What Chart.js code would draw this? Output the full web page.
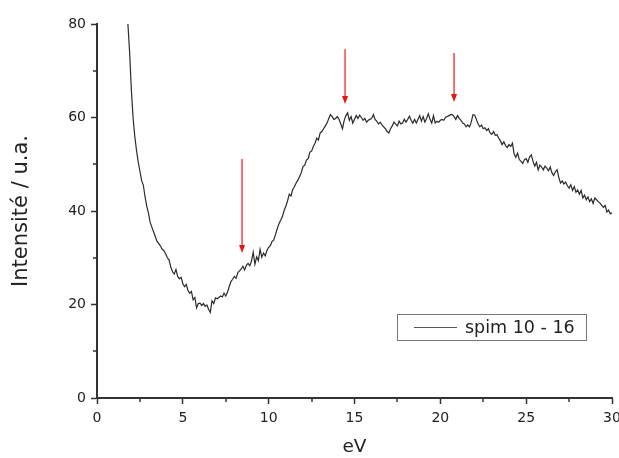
<!DOCTYPE html>
<html>
<head>
<meta charset="utf-8">
<script src="https://cdn.jsdelivr.net/npm/chart.js@4"></script>
<style>
  body { margin: 0; background: #fff; }
</style>
</head>
<body>
<canvas id="spectre" width="619" height="458"></canvas>
<script>
// spectre spim 10 - 16, pas de 0.1 eV a partir de 1.8 eV
var startEV = 1.8;
var stepEV = 0.1;
var intensite = [
  80, 74,
  66, 60, 56, 53, 50.5, 48.5, 46.5, 45.5, 43, 41,
  39.5, 37.5, 36.5, 35.5, 34.5, 33.5, 33, 32.5, 31.8, 31.5,
  30.8, 30, 29.5, 28, 27, 26.5, 27.5, 26, 25.5, 25.8,
  24.5, 23.8, 24.3, 23, 22.4, 22.8, 21, 21.5, 19.3, 20.2,
  20.3, 19.8, 20.2, 19.6, 19.9, 19, 18.3, 20.8, 20.2, 21.4,
  21.2, 21.5, 21.8, 21.6, 22.4, 21.8, 22.6, 23.8, 24.9, 25.4,
  26, 25.6, 26.8, 27.2, 27.6, 28.2, 27.4, 28.4, 28.8, 28.3,
  29.3, 31.2, 28.6, 30.2, 29.4, 31.8, 30.1, 31, 30.4, 31.6,
  32.2, 32.6, 33.5, 33.8, 35, 36.2, 37.3, 38, 38.8, 40.1,
  41, 42.2, 43.6, 43.2, 44.6, 45.2, 46, 46.6, 47.4, 48.2,
  49.5, 49.8, 50.9, 51.2, 52.6, 52.8, 53.8, 54.5, 55.6, 55.2,
  56.7, 57, 57.6, 58.2, 58.8, 59.8, 60.6, 60.2, 59.6, 59.8,
  60.2, 59.6, 58.6, 57.6, 59.4, 60.4, 61, 59.4, 60.2, 58.8,
  59.6, 60.4, 59.8, 60.5, 60, 59.4, 59.8, 59, 59.4, 59.6,
  59.8, 60.6, 59.6, 59.2, 58.6, 59, 58.4, 58, 57.6, 57,
  56.7, 57.6, 58.2, 59, 58.6, 58.2, 59.2, 58.6, 58.8, 59.6,
  59, 59.6, 60.3, 59.4, 58.8, 59.6, 58.8, 59.6, 60.4, 59.2,
  60.2, 59, 59.8, 60.8, 59.6, 58.8, 60.4, 58.8, 59.2, 59,
  59.4, 59.6, 59.4, 60, 60.2, 60.4, 60.6, 60.6, 60.2, 59.6,
  60.4, 59.8, 59.4, 58.8, 58.6, 58, 58.4, 58, 59, 60.6,
  60.5, 59.6, 58.6, 58, 58.4, 57.6, 57.8, 57.2, 57.6, 56.7,
  56.4, 57, 56.2, 56.3, 55.6, 55, 54.2, 54.8, 54, 53.6,
  54.2, 53.8, 54.5, 52.2, 51.5, 52.4, 51, 50.6, 50.2, 51,
  51.2, 50.4, 51.6, 52, 50.6, 49.6, 50.4, 48.8, 49.8, 49.4,
  48.8, 49.6, 49.2, 48.6, 49.4, 48.2, 47.6, 48.4, 48.8, 47.2,
  46, 46.4, 45.8, 46.2, 45.4, 44.9, 45.6, 44.4, 45.2, 44,
  44.5, 43.6, 44.4, 42.8, 43.4, 42.4, 43, 42, 42.6, 41.6,
  42.8, 42.4, 42, 41.7, 41.2, 40.8, 41.2, 39.8, 40.2, 39.4,
  39.6
];

// fleches rouges : position en eV, debut et pointe en u.a.
var flecheEV = [8.45, 14.45, 20.8];
var flecheHaut = [51.1, 74.6, 73.8];
var flechePointe = [31, 62.9, 63.3];

// graduations secondaires
var minorX = [2.5, 7.5, 12.5, 17.5, 22.5, 27.5];
var minorY = [10, 30, 50, 70];

var points = [];
for (var i = 0; i < intensite.length; i++) {
  points.push({ x: Math.round((startEV + i * stepEV) * 10) / 10, y: intensite[i] });
}

var police = "'DejaVu Sans', sans-serif";

var decorPlugin = {
  id: 'decor',
  afterDraw: function (chart) {
    var ctx = chart.ctx;
    var xs = chart.scales.x;
    var ys = chart.scales.y;
    var area = chart.chartArea;
    ctx.save();

    // petites graduations
    ctx.strokeStyle = '#333';
    ctx.lineWidth = 1.5;
    minorX.forEach(function (v) {
      var px = Math.round(xs.getPixelForValue(v));
      ctx.beginPath();
      ctx.moveTo(px, area.bottom);
      ctx.lineTo(px, area.bottom + 4);
      ctx.stroke();
    });
    minorY.forEach(function (v) {
      var py = Math.round(ys.getPixelForValue(v));
      ctx.beginPath();
      ctx.moveTo(area.left, py);
      ctx.lineTo(area.left - 4, py);
      ctx.stroke();
    });

    // fleches
    for (var k = 0; k < flecheEV.length; k++) {
      var fx = xs.getPixelForValue(flecheEV[k]);
      var y0 = ys.getPixelForValue(flecheHaut[k]);
      var y1 = ys.getPixelForValue(flechePointe[k]);
      ctx.strokeStyle = 'rgb(238, 70, 70)';
      ctx.lineWidth = 1.5;
      ctx.beginPath();
      ctx.moveTo(fx, y0);
      ctx.lineTo(fx, y1 - 6);
      ctx.stroke();
      ctx.fillStyle = 'rgb(230, 20, 20)';
      ctx.beginPath();
      ctx.moveTo(fx - 3, y1 - 8);
      ctx.lineTo(fx + 3, y1 - 8);
      ctx.lineTo(fx, y1);
      ctx.closePath();
      ctx.fill();
    }

    // legende
    var lx = 397, ly = 314, lw = 189, lh = 26;
    ctx.fillStyle = '#fff';
    ctx.fillRect(lx, ly, lw, lh);
    ctx.strokeStyle = '#777';
    ctx.lineWidth = 1;
    ctx.strokeRect(lx + 0.5, ly + 0.5, lw, lh);
    ctx.strokeStyle = '#555';
    ctx.beginPath();
    ctx.moveTo(414, ly + lh / 2 + 0.5);
    ctx.lineTo(457, ly + lh / 2 + 0.5);
    ctx.stroke();
    ctx.fillStyle = '#222';
    ctx.font = '17.5px ' + police;
    ctx.textBaseline = 'middle';
    ctx.textAlign = 'left';
    ctx.fillText(chart.data.datasets[0].label, 465, ly + lh / 2 + 1);

    ctx.restore();
  }
};

var ctx = document.getElementById('spectre').getContext('2d');
new Chart(ctx, {
  type: 'line',
  data: {
    datasets: [{
      label: 'spim 10 - 16',
      data: points,
      borderColor: '#2a2a2a',
      borderWidth: 1.2,
      pointRadius: 0,
      tension: 0,
      fill: false
    }]
  },
  options: {
    responsive: false,
    animation: false,
    layout: { padding: { top: 24, right: 7, left: 0, bottom: 0 } },
    plugins: {
      legend: { display: false },
      tooltip: { enabled: false }
    },
    scales: {
      x: {
        type: 'linear',
        min: 0,
        max: 30,
        ticks: { stepSize: 5, color: '#222', padding: 6, font: { family: police, size: 14 } },
        grid: { drawOnChartArea: false, tickLength: 6, tickColor: '#333', tickWidth: 1.5 },
        border: { color: '#333', width: 2 },
        title: { display: true, text: 'eV', color: '#222', padding: 0, font: { family: police, size: 18.5 } },
        afterFit: function (scale) {
          scale.height = 60;
          scale.paddingLeft = 0;
          scale.paddingRight = 0;
        }
      },
      y: {
        min: 0,
        max: 80,
        ticks: { stepSize: 20, color: '#222', padding: 5, font: { family: police, size: 14 } },
        grid: { drawOnChartArea: false, tickLength: 6, tickColor: '#333', tickWidth: 1.5 },
        border: { color: '#333', width: 2 },
        title: { display: true, text: 'Intensité / u.a.', color: '#222', padding: { top: 9, bottom: 0 }, font: { family: police, size: 21 } },
        afterFit: function (scale) {
          scale.width = 97;
          scale.paddingTop = 0;
          scale.paddingBottom = 0;
        }
      }
    }
  },
  plugins: [decorPlugin]
});
</script>
</body>
</html>
